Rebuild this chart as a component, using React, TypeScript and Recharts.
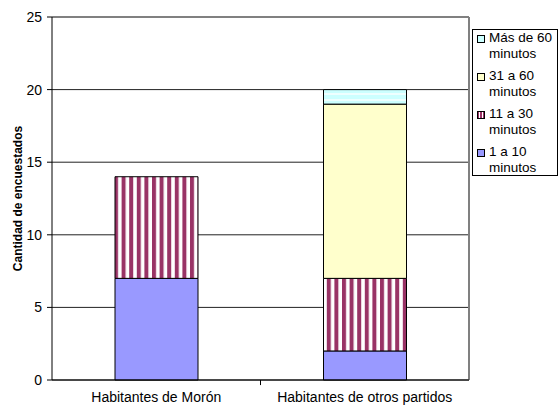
import React from 'react';
import {
  BarChart, Bar, XAxis, YAxis, CartesianGrid, ReferenceLine,
} from 'recharts';

const CATEGORIES = ['Habitantes de Morón', 'Habitantes de otros partidos'];
const MIN_1_10 = [7, 2];
const MIN_11_30 = [7, 5];
const MIN_31_60 = [0, 12];
const MIN_60_MAS = [0, 1];
const Y_TICKS = [0, 5, 10, 15, 20, 25];

const SERIES = [
  { key: 'm1', name: '1 a 10 minutos', fill: '#9999FF', swatch: '#9999FF' },
  { key: 'm2', name: '11 a 30 minutos', fill: 'url(#stripesV)', swatch: 'url(#stripesVs)' },
  { key: 'm3', name: '31 a 60 minutos', fill: '#FFFFCC', swatch: '#FFFFCC' },
  { key: 'm4', name: 'Más de 60 minutos', fill: 'url(#stripesH)', swatch: '#CCFFFF' },
];

const data = CATEGORIES.map((name, i) => ({
  name,
  m1: MIN_1_10[i],
  m2: MIN_11_30[i],
  m3: MIN_31_60[i],
  m4: MIN_60_MAS[i],
}));

const FONT = '"Liberation Sans", Arial, sans-serif';

const LegendBox = () => (
  <div style={{
    position: 'absolute',
    left: 472,
    top: 29,
    border: '1px solid #000',
    background: '#fff',
    width: 86,
    height: 147,
    boxSizing: 'border-box',
    padding: '0 0 0 4px',
    fontFamily: FONT,
    fontSize: 13.5,
    color: '#000',
  }}>
    {[...SERIES].reverse().map(s => (
      <div key={s.key} style={{ display: 'flex', alignItems: 'flex-start', height: 38 }}>
        <svg width={11} height={10} style={{ marginTop: 4, marginRight: 1, flex: 'none' }}>
          <defs>
            <pattern id="stripesVs" width="3" height="9" patternUnits="userSpaceOnUse">
              <rect width="3" height="9" fill="#fff" />
              <rect width="2" height="9" fill="#993366" />
            </pattern>
          </defs>
          <rect x={0.5} y={1.5} width={7} height={7} fill={s.swatch} stroke="#000" strokeWidth={1} />
        </svg>
        <div style={{ width: 70, lineHeight: '16px' }}>{s.name}</div>
      </div>
    ))}
  </div>
);

const YLabel = (props: any) => {
  const vb = props.viewBox || {};
  const cy = (vb.y ?? 17) + (vb.height ?? 363) / 2;
  return (
    <text
      x={22}
      y={cy}
      transform={`rotate(-90, 22, ${cy})`}
      textAnchor="middle"
      fontFamily={FONT}
      fontSize={12}
      fontWeight="bold"
      fill="#000"
    >
      Cantidad de encuestados
    </text>
  );
};

export default function App() {
  return (
    <div style={{ position: 'absolute', left: 0, top: 0, width: 558, height: 410, background: '#fff' }}>
      <BarChart
        width={558}
        height={410}
        data={data}
        margin={{ top: 17, right: 89, bottom: 0, left: 0 }}
        style={{ fontFamily: FONT }}
      >
        <defs>
          <pattern id="stripesV" width="7.6" height="10" patternUnits="userSpaceOnUse">
            <rect width="7.6" height="10" fill="#fff" />
            <rect x="0" width="4" height="10" fill="#993366" />
          </pattern>
          <pattern id="stripesH" width="10" height="6" patternUnits="userSpaceOnUse">
            <rect width="10" height="6" fill="#CCFFFF" />
            <rect y="3" width="10" height="2" fill="#EEFFFF" />
          </pattern>
        </defs>
        <CartesianGrid vertical={false} stroke="#222" strokeWidth={1} />
        <XAxis
          dataKey="name"
          height={30}
          tickLine={false}
          axisLine={{ stroke: '#000' }}
          tickMargin={6}
          tick={{ fontSize: 14, fill: '#000', fontFamily: FONT }}
        />
        <YAxis
          width={52}
          domain={[0, 25]}
          ticks={Y_TICKS}
          interval={0}
          tickSize={5}
          tickMargin={5}
          axisLine={{ stroke: '#000' }}
          tickLine={{ stroke: '#000' }}
          tick={{ fontSize: 14, fill: '#000', fontFamily: FONT }}
          label={<YLabel />}
        />
        <ReferenceLine y={25} stroke="#808080" strokeWidth={2} />
        <ReferenceLine x={CATEGORIES[1]} position="end" stroke="#808080" strokeWidth={2} />
        <ReferenceLine
          segment={[{ x: CATEGORIES[0], y: 0 }, { x: CATEGORIES[0], y: -0.35 }]}
          position="end"
          ifOverflow="visible"
          stroke="#000"
          strokeWidth={1}
        />
        {SERIES.map(s => (
          <Bar
            key={s.key}
            dataKey={s.key}
            name={s.name}
            stackId="a"
            fill={s.fill}
            stroke="#000"
            strokeWidth={1}
            barSize={83}
            isAnimationActive={false}
          />
        ))}
      </BarChart>
      <LegendBox />
    </div>
  );
}
